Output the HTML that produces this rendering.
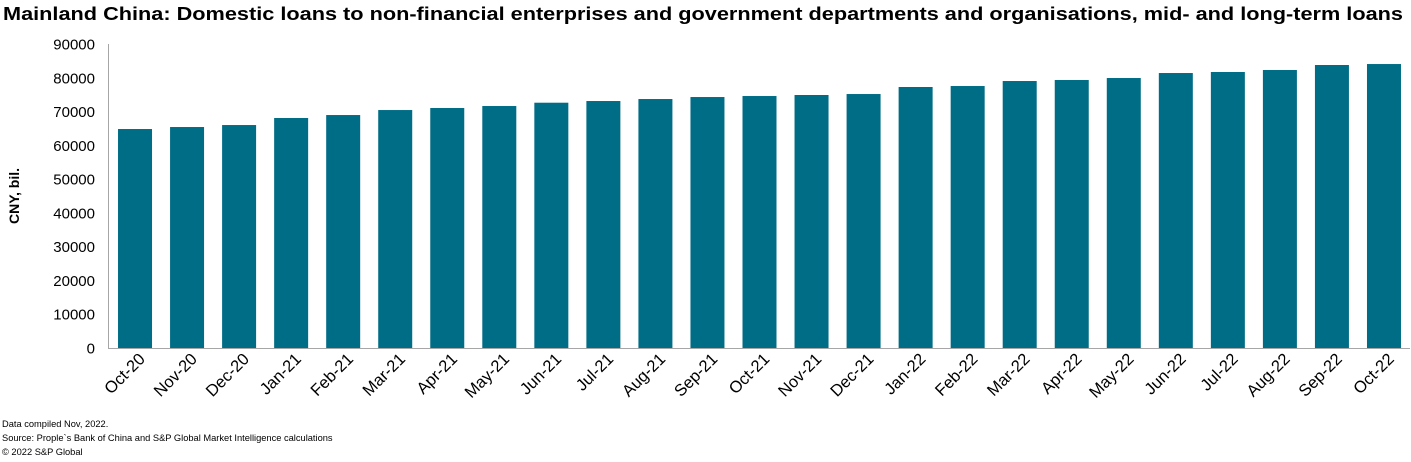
<!DOCTYPE html>
<html><head><meta charset="utf-8"><style>
body{margin:0;background:#fff;width:1411px;height:457px;overflow:hidden;font-family:"Liberation Sans",Arial,sans-serif}
svg text{font-family:"Liberation Sans",Arial,sans-serif}
</style></head><body>
<svg id="chart" width="1411" height="457" viewBox="0 0 1411 457">
<text x="3" y="20" font-size="18" font-weight="bold" fill="#000" textLength="1400" lengthAdjust="spacingAndGlyphs">Mainland China: Domestic loans to non-financial enterprises and government departments and organisations, mid- and long-term loans</text>
<text transform="translate(19,196) rotate(-90)" text-anchor="middle" font-size="14" font-weight="bold">CNY, bil.</text>
<g id="yticks"></g><g id="bars"></g><g id="xlabels"></g>
<line x1="108.5" y1="44" x2="108.5" y2="348" stroke="#a6a6a6" stroke-width="1"/>
<line x1="108" y1="348.5" x2="1410" y2="348.5" stroke="#a6a6a6" stroke-width="1"/>
<g font-size="9.3" fill="#000">
<text x="2" y="427">Data compiled Nov, 2022.</text>
<text x="2" y="441">Source: Prople`s Bank of China and S&amp;P Global Market Intelligence calculations</text>
<text x="2" y="455">© 2022 S&amp;P Global</text>
</g>
</svg>
<script>
const categories=["Oct-20","Nov-20","Dec-20","Jan-21","Feb-21","Mar-21","Apr-21","May-21","Jun-21","Jul-21","Aug-21","Sep-21","Oct-21","Nov-21","Dec-21","Jan-22","Feb-22","Mar-22","Apr-22","May-22","Jun-22","Jul-22","Aug-22","Sep-22","Oct-22"];
const values=[64830,65420,66010,68090,68970,70450,71050,71640,72620,73120,73710,74300,74600,74900,75190,77270,77560,79040,79340,79930,81410,81710,82300,83780,84070];
const yTicks=[0,10000,20000,30000,40000,50000,60000,70000,80000,90000];
const NS="http://www.w3.org/2000/svg";
const x0=109,x1=1410,y0=348,yTop=44,yMax=90000;
const step=(x1-x0)/categories.length;
const yS=v=>y0-(v/yMax)*(y0-yTop);
const xC=i=>x0+step*(i+0.5);
const yt=document.getElementById('yticks'),bg=document.getElementById('bars'),xl=document.getElementById('xlabels');
yTicks.forEach(t=>{
 const e=document.createElementNS(NS,'text');
 
 
 e.setAttribute('x',95);e.setAttribute('y',yS(t)+5.5);e.setAttribute('text-anchor','end');e.setAttribute('font-size','15');
 e.textContent=t;yt.appendChild(e);
});
const bw=34;
values.forEach((v,i)=>{
 const r=document.createElementNS(NS,'rect');
 
 
 r.setAttribute('x',xC(i)-bw/2);r.setAttribute('y',yS(v));r.setAttribute('width',bw);r.setAttribute('height',y0-yS(v));r.setAttribute('fill','#006d86');
 bg.appendChild(r);
});
categories.forEach((c,i)=>{
 const e=document.createElementNS(NS,'text');
 
 
 const x=xC(i)+11,y=360;
 e.setAttribute('transform','translate('+x+','+y+') rotate(-45)');
 e.setAttribute('text-anchor','end');e.setAttribute('font-size','16.5');
 e.textContent=c;xl.appendChild(e);
});
</script>
</body></html>
